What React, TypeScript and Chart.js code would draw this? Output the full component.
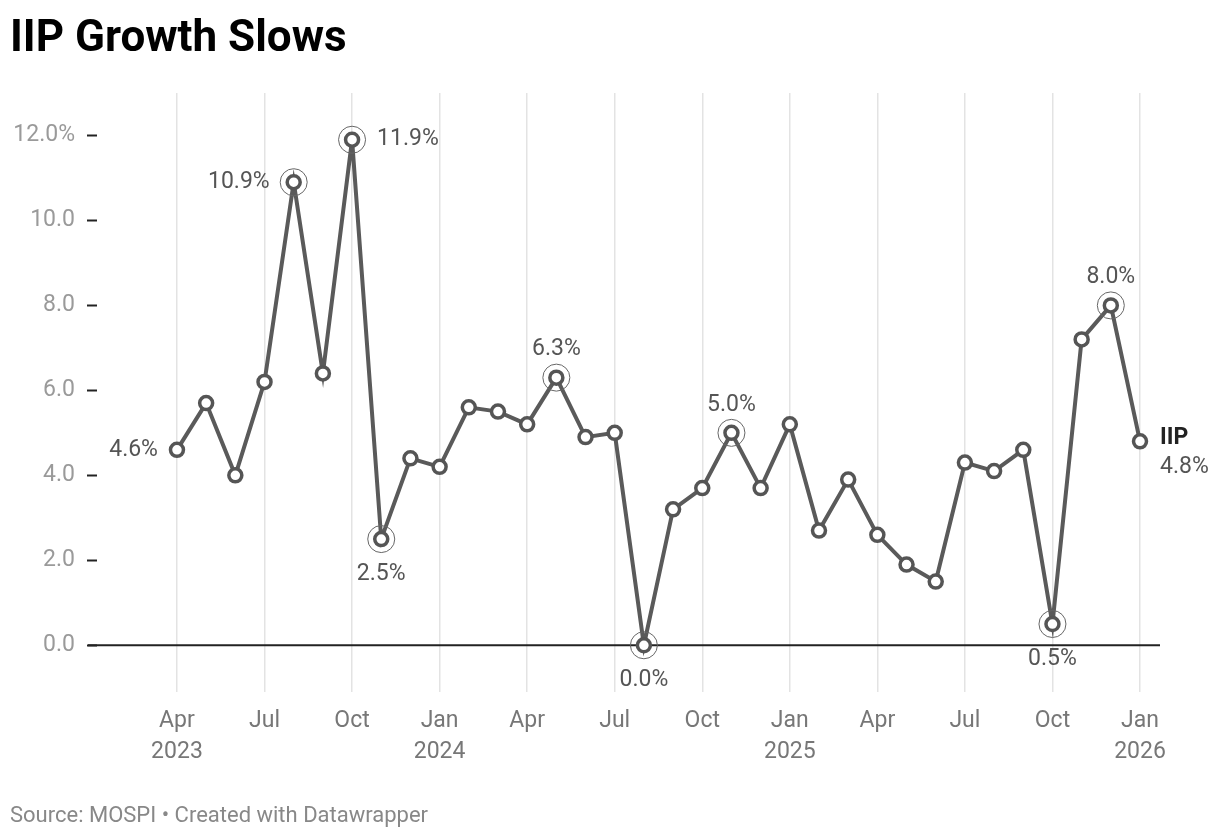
import React, { useEffect, useRef } from "react";
import { Chart, registerables } from "chart.js";

Chart.register(...registerables);

const months = [
  "Apr 2023", "May 2023", "Jun 2023", "Jul 2023", "Aug 2023", "Sep 2023", "Oct 2023", "Nov 2023", "Dec 2023",
  "Jan 2024", "Feb 2024", "Mar 2024", "Apr 2024", "May 2024", "Jun 2024", "Jul 2024", "Aug 2024", "Sep 2024",
  "Oct 2024", "Nov 2024", "Dec 2024",
  "Jan 2025", "Feb 2025", "Mar 2025", "Apr 2025", "May 2025", "Jun 2025", "Jul 2025", "Aug 2025", "Sep 2025",
  "Oct 2025", "Nov 2025", "Dec 2025",
  "Jan 2026",
];

const iipGrowth = [
  4.6, 5.7, 4.0, 6.2, 10.9, 6.4, 11.9, 2.5, 4.4,
  4.2, 5.6, 5.5, 5.2, 6.3, 4.9, 5.0, 0.0, 3.2, 3.7, 5.0, 3.7,
  5.2, 2.7, 3.9, 2.6, 1.9, 1.5, 4.3, 4.1, 4.6, 0.5, 7.2, 8.0,
  4.8,
];

const yTickValues = [0, 2, 4, 6, 8, 10, 12];
const xTickIndices = [0, 3, 6, 9, 12, 15, 18, 21, 24, 27, 30, 33];
const highlighted = [4, 6, 7, 13, 16, 19, 30, 32];
const labelPlacement: [number, string][] = [
  [0, "left"], [4, "left"], [6, "right"], [7, "below"], [13, "above"],
  [16, "below"], [19, "above"], [30, "below"], [32, "above"],
];
const seriesName = "IIP";
const titleText = "IIP Growth Slows";
const sourceText = "Source: MOSPI • Created with Datawrapper";

const FONT = "Roboto";

const fmt = (v: number) => v.toFixed(1) + "%";

const annotatePlugin = {
  id: "annotate",
  beforeDatasetsDraw(chart: any) {
    const { ctx, chartArea, scales } = chart;
    const y0 = scales.y.getPixelForValue(0);
    ctx.save();
    ctx.strokeStyle = "#222";
    ctx.lineWidth = 2;
    ctx.beginPath();
    ctx.moveTo(chartArea.left - 9, y0);
    ctx.lineTo(chartArea.right, y0);
    ctx.stroke();
    ctx.restore();
  },
  afterDatasetsDraw(chart: any) {
    const { ctx } = chart;
    const meta = chart.getDatasetMeta(0);
    ctx.save();
    ctx.strokeStyle = "#666";
    ctx.lineWidth = 1;
    highlighted.forEach((i) => {
      const p = meta.data[i];
      ctx.beginPath();
      ctx.arc(p.x, p.y, 13.5, 0, Math.PI * 2);
      ctx.stroke();
    });
    ctx.font = `23px ${FONT}`;
    ctx.fillStyle = "#555";
    labelPlacement.forEach(([i, pos]) => {
      const p = meta.data[i];
      const text = fmt(iipGrowth[i]);
      const halo = highlighted.includes(i);
      const off = halo ? 24 : 19;
      if (pos === "left") {
        ctx.textAlign = "right";
        ctx.textBaseline = "middle";
        ctx.fillText(text, p.x - off, p.y);
      } else if (pos === "right") {
        ctx.textAlign = "left";
        ctx.textBaseline = "middle";
        ctx.fillText(text, p.x + off + 1, p.y);
      } else if (pos === "above") {
        ctx.textAlign = "center";
        ctx.textBaseline = "middle";
        ctx.fillText(text, p.x, p.y - 28);
      } else {
        ctx.textAlign = "center";
        ctx.textBaseline = "middle";
        ctx.fillText(text, p.x, p.y + 35);
      }
    });
    const last = meta.data[meta.data.length - 1];
    ctx.textAlign = "left";
    ctx.textBaseline = "middle";
    ctx.font = `bold 23px ${FONT}`;
    ctx.fillStyle = "#222";
    ctx.fillText(seriesName, last.x + 20, last.y - 3);
    ctx.font = `23px ${FONT}`;
    ctx.fillStyle = "#555";
    ctx.fillText(fmt(iipGrowth[iipGrowth.length - 1]), last.x + 20, last.y + 26);
    ctx.restore();
  },
};

export default function App() {
  const ref = useRef<HTMLCanvasElement | null>(null);

  useEffect(() => {
    if (!ref.current) return;
    const chart = new Chart(ref.current, {
      type: "line",
      data: {
        datasets: [
          {
            label: seriesName,
            data: iipGrowth.map((v, i) => ({ x: i, y: v })),
            borderColor: "#5a5a5a",
            borderWidth: 4,
            pointRadius: 6.5,
            pointBorderWidth: 3.5,
            pointBackgroundColor: "#ffffff",
            pointBorderColor: "#555555",
            tension: 0,
          },
        ],
      },
      options: {
        responsive: false,
        animation: false,
        events: [],
        layout: { padding: { top: 93, right: 60, left: 0, bottom: 0 } },
        plugins: { legend: { display: false }, tooltip: { enabled: false } },
        scales: {
          x: {
            type: "linear",
            min: -2.74,
            max: 33.685,
            afterBuildTicks: (scale: any) => {
              scale.ticks = xTickIndices.map((v) => ({ value: v }));
            },
            afterFit: (scale: any) => {
              scale.height = 146;
            },
            grid: { color: "#e3e3e3", lineWidth: 1.5, drawTicks: false },
            border: { display: false },
            ticks: {
              padding: 13,
              maxRotation: 0,
              autoSkip: false,
              color: "#777",
              font: { family: FONT, size: 23, lineHeight: 1.38 },
              callback: (value: any, idx: number) => {
                const [mon, year] = months[value as number].split(" ");
                return idx === 0 || mon === "Jan" ? [mon, year] : mon;
              },
            },
          },
          y: {
            type: "linear",
            min: -1.1,
            max: 13.0,
            afterBuildTicks: (scale: any) => {
              scale.ticks = yTickValues.map((v) => ({ value: v }));
            },
            afterFit: (scale: any) => {
              scale.width = 97;
            },
            grid: {
              drawOnChartArea: false,
              drawTicks: true,
              tickLength: 10,
              tickColor: "#222",
              tickWidth: 2,
            },
            border: { display: false },
            ticks: {
              padding: 12,
              color: "#9a9a9a",
              font: { family: FONT, size: 23 },
              callback: (value: any) => {
                const v = Number(value);
                return v === 12 ? v.toFixed(1) + "%" : v.toFixed(1);
              },
            },
          },
        },
      },
      plugins: [annotatePlugin],
    });
    return () => chart.destroy();
  }, []);

  return (
    <div
      style={{
        position: "fixed",
        left: 0,
        top: 0,
        width: 1220,
        height: 838,
        background: "#fff",
        overflow: "hidden",
      }}
    >
      <canvas
        ref={ref}
        width={1220}
        height={838}
        style={{ position: "absolute", left: 0, top: 0, width: 1220, height: 838, display: "block" }}
      />
      <div
        style={{
          position: "absolute",
          left: 10,
          top: 14,
          fontFamily: FONT,
          fontWeight: 700,
          fontSize: 44,
          lineHeight: "44px",
          color: "#000",
          whiteSpace: "nowrap",
        }}
      >
        {titleText}
      </div>
      <div
        style={{
          position: "absolute",
          left: 10,
          top: 802,
          fontFamily: FONT,
          fontSize: 22,
          lineHeight: "26px",
          color: "#888",
          whiteSpace: "nowrap",
        }}
      >
        {sourceText}
      </div>
    </div>
  );
}
